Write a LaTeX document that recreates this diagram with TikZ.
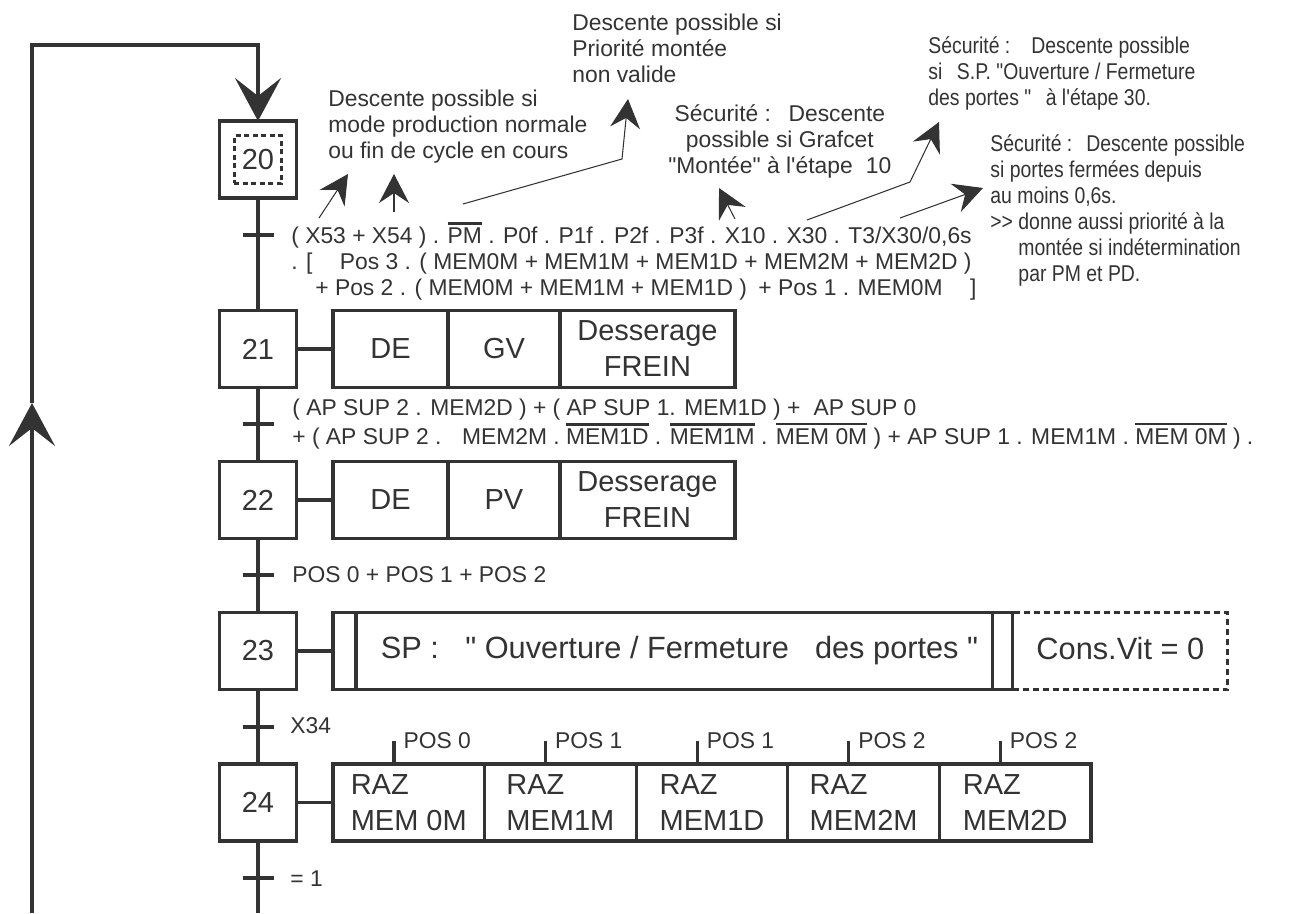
\documentclass[tikz,border=0pt]{standalone}
\usepackage{fontspec}
\usepackage{graphicx}
\newfontfamily\arial{Liberation Sans}
\newfontfamily\arialetroit{Liberation Sans}[FakeStretch=0.85]
\usetikzlibrary{arrows.meta, positioning, calc}

\colorlet{encre}{black!80}
\newcommand\grand{\arial\fontsize{16.5}{20.5}\selectfont}
\newcommand\tresgrand{\arial\fontsize{17.5}{20.5}\selectfont}
\newcommand\petit{\arial\fontsize{13}{14.8}\selectfont}
\newcommand\etroit{\arialetroit\fontsize{13}{14.8}\selectfont}

% barre de complement
\newsavebox\barbox
\newcommand\barre[1]{\sbox\barbox{#1}\rlap{\rule[\dimexpr\ht\barbox+1.5pt\relax]{\wd\barbox}{1.6pt}}\usebox\barbox}

\tikzset{
  trait/.style={line width=1.8pt},
  etape/.style={draw, trait, minimum width=1.54cm, minimum height=1.54cm, inner sep=0pt, outer sep=0pt, font=\grand},
  action/.style={draw, trait, minimum height=1.54cm, inner sep=0pt, outer sep=0pt, align=center, font=\grand},
  cond/.style={anchor=base west, inner sep=0pt, font=\petit},
  note/.style={anchor=north west, align=left, inner sep=0pt, font=\petit},
  fleche/.style={line width=0.6pt, -{Stealth[length=0.58cm, width=0.6cm, inset=0.2cm]}},
  grosse/.style={trait, -{Stealth[length=0.86cm, width=0.92cm, inset=0.36cm]}}
}

\begin{document}
\begin{tikzpicture}[x=0.02cm, y=-0.02cm, color=encre, font=\petit]
  \useasboundingbox (0,0) rectangle (1297,913);

  % etapes
  \node[etape] (e20) at (258,159.5) {};
  \node[draw, line width=1.6pt, dash pattern=on 0.1cm off 0.07cm, minimum size=0.95cm, inner sep=0pt, font=\grand] (n20) at (e20) {20};
  \node[etape] (e21) at (258,349) {21};
  \node[etape] (e22) at (258,500) {22};
  \node[etape] (e23) at (258,651) {23};
  \node[etape] (e24) at (258,802.5) {24};

  % liaisons
  \coordinate (haut) at (258,45);
  \coordinate (coin) at (32,45);
  \coordinate (bas) at (32,913);
  \coordinate (pointe) at (32,403);
  \coordinate (fin) at (258,913);
  \draw[grosse] (bas) -- (pointe);
  \draw[grosse] (pointe) -- (coin) -- (haut) -- (e20.north);
  \draw[trait] (e20.south) -- (e21.north) (e21.south) -- (e22.north)
    (e22.south) -- (e23.north) (e23.south) -- (e24.north) (e24.south) -- (fin);

  % transitions
  \foreach \t/\y in {t1/235, t2/424, t3/575, t4/727, t5/878} {
    \coordinate (\t) at (258,\y);
    \draw[trait] ([xshift=-0.31cm]\t) -- ([xshift=0.31cm]\t);
  }

  % actions
  \node[action, minimum width=2.3cm, anchor=west] (de21) at (333,349) {DE};
  \node[action, minimum width=2.24cm, anchor=west] (gv21) at (de21.east) {GV};
  \node[action, minimum width=3.5cm, anchor=west] (fr21) at (gv21.east) {Desserage\\FREIN};
  \draw[trait] (e21.east) -- (de21.west);

  \node[action, minimum width=2.3cm, anchor=west] (de22) at (333,500) {DE};
  \node[action, minimum width=2.24cm, anchor=west] (pv22) at (de22.east) {PV};
  \node[action, minimum width=3.5cm, anchor=west] (fr22) at (pv22.east) {Desserage\\FREIN};
  \draw[trait] (e22.east) -- (de22.west);

  \node[action, minimum width=13.6cm, anchor=west, font=\tresgrand] (sp23) at (333,651)
    {\hspace*{7.4pt}SP :\hspace{0.86em}" Ouverture / Fermeture\hspace{0.85em}des portes "};
  \draw[trait] ([xshift=0.46cm]sp23.north west) -- ([xshift=0.46cm]sp23.south west);
  \draw[trait] ([xshift=-0.4cm]sp23.north east) -- ([xshift=-0.4cm]sp23.south east);
  \node[action, dash pattern=on 0.12cm off 0.08cm, minimum width=4.3cm, anchor=west, font=\tresgrand] (cv23) at (sp23.east) {\raisebox{3pt}{Cons.Vit = 0}};
  \draw[trait] (e23.east) -- (sp23.west);

  \foreach \txt/\pos [count=\i] in {MEM 0M/POS 0, MEM1M/POS 1, MEM1D/POS 1, MEM2M/POS 2, MEM2D/POS 2} {
    \node[action, minimum width=3.032cm, anchor=west, align=left] (raz\i) at ({333+151.6*(\i-1)},802.5) {RAZ\\\txt};
    \draw[trait] ([xshift=1.22cm]raz\i.north west) -- ++(0,-23)
      node[anchor=base west, inner sep=0pt, xshift=0.16cm, yshift=-0.14cm] (p\i) {\pos};
  }
  \draw[trait] (e24.east) -- (raz1.west);

  % receptivites
  \node[cond] (c1a) at (291,243) {( X53 + X54 ) . \barre{PM} . P0f . P1f . P2f . P3f . X10 . X30 . T3/X30/0,6s};
  \node[cond] (c1b) at (291,269) {. [\hspace{1.2em}Pos 3 . ( MEM0M + MEM1M + MEM1D + MEM2M + MEM2D )};
  \node[cond] (c1c) at (315,295) {+ Pos 2 . ( MEM0M + MEM1M + MEM1D )\hspace{0.5em}+ Pos 1 . MEM0M\hspace{1.2em}]};
  \node[cond] (c2a) at (292,415) {( AP SUP 2 . MEM2D ) + ( AP SUP 1. MEM1D ) +\hspace{0.3em} AP SUP 0};
  \node[cond] (c2b) at (292,444) {+ ( AP SUP 2 .\hspace{0.9em}MEM2M . \barre{MEM1D} . \barre{MEM1M} . \barre{MEM 0M} ) + AP SUP 1 . MEM1M . \barre{MEM 0M} ) .};
  \node[cond] (c3) at (292,582) {POS 0 + POS 1 + POS 2};
  \node[cond] (c4) at (290,733) {X34};
  \node[cond] (c5) at (290,886) {= 1};

  % commentaires
  \node[note] (nA) at (328,89.5) {Descente possible si\\mode production normale\\ou fin de cycle en cours};
  \node[note] (nB) at (572,13.5) {Descente possible si\\Priorité montée\\non valide};
  \node[note, align=center] (nC) at (668,104.5) {Sécurité :\hspace{0.4em} Descente\\possible si Grafcet\\"Montée" à l'étape\hspace{0.3em} 10};
  \node[note, font=\etroit] (nD) at (928,36.5) {Sécurité :\hspace{0.6em} Descente possible\\si\hspace{0.4em} S.P. "Ouverture / Fermeture\\des portes "\hspace{0.4em} à l'étape 30.};
  \node[note, font=\etroit] (nE) at (990,134.5) {Sécurité :\hspace{0.3em} Descente possible\\si portes fermées depuis\\au moins 0,6s.\\>> donne aussi priorité à la\\\hspace*{16pt}montée si indétermination\\\hspace*{16pt}par PM et PD.};

  % fleches des commentaires
  \coordinate (dA1) at (319,218); \coordinate (fA1) at (348,174);
  \coordinate (dA2) at (394,212); \coordinate (fA2) at (394,174);
  \coordinate (dB) at (463,204); \coordinate (kB) at (622,159); \coordinate (fB) at (628,99);
  \coordinate (dC) at (735,219); \coordinate (fC) at (719,188);
  \coordinate (dD) at (807,220); \coordinate (kD) at (910,182); \coordinate (fD) at (939,122);
  \coordinate (dE) at (900,218); \coordinate (fE) at (983,188);
  \draw[fleche] (dA1) -- (fA1);
  \draw[fleche] (dA2) -- (fA2);
  \draw[fleche] (dB) -- (kB) -- (fB);
  \draw[fleche] (dC) -- (fC);
  \draw[fleche] (dD) -- (kD) -- (fD);
  \draw[fleche] (dE) -- (fE);
\end{tikzpicture}
\end{document}
